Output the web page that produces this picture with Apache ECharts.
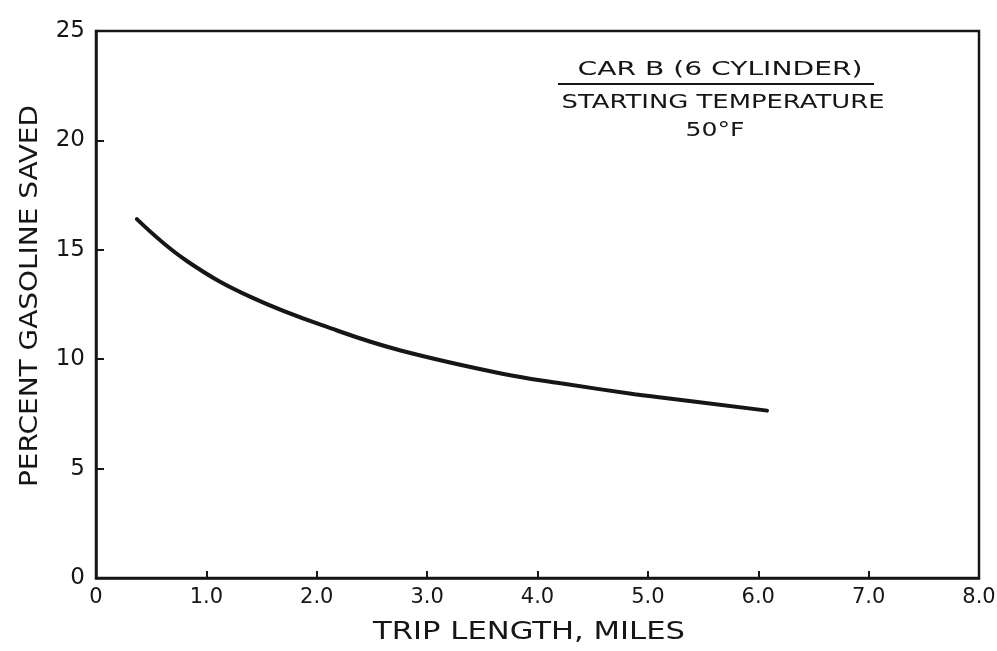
<!DOCTYPE html>
<html><head><meta charset="utf-8">
<script src="https://cdn.jsdelivr.net/npm/echarts@6/dist/echarts.min.js"></script>
<style>html,body{margin:0;padding:0;background:#fff}#c{width:997px;height:651px}</style>
</head><body><div id="c"></div>
<script>
var tripMiles = [0.37, 0.82, 1.42, 2.19, 2.76, 3.67, 4.21, 4.88, 5.12, 6.08];
var pctSaved  = [16.4, 14.5, 12.8, 11.3, 10.4, 9.35, 8.9, 8.4, 8.25, 7.65];
var xTickLabels = ['0','1.0','2.0','3.0','4.0','5.0','6.0','7.0','8.0'];
var yTickLabels = ['0','5','10','15','20','25'];
var xAxisTitle = 'TRIP LENGTH, MILES';
var yAxisTitle = 'PERCENT GASOLINE SAVED';
var noteLines = ['CAR B (6 CYLINDER)', 'STARTING TEMPERATURE', '50°F'];

var FONT = 'DejaVu Sans';
var INK = '#161616';
var mctx = document.createElement('canvas').getContext('2d');
function stretch(text, size, targetW){
  mctx.font = size + 'px "' + FONT + '"';
  return targetW / mctx.measureText(text).width;
}
function label(text, size, cx, cy, targetW, rot){
  return {type:'text', x:cx, y:cy, rotation:rot||0, scaleX:stretch(text,size,targetW), scaleY:1,
    style:{text:text, fontFamily:FONT, fontSize:size, fill:INK, align:'center', verticalAlign:'middle'}};
}
var chart = echarts.init(document.getElementById('c'), null, {renderer:'canvas'});
var data = tripMiles.map(function(x,i){return [x,pctSaved[i]];});
chart.setOption({
  animation:false,
  backgroundColor:'#fff',
  grid:{left:96,right:18,top:31,bottom:73,outerBoundsMode:'none',containLabel:false,
    show:true,borderColor:INK,borderWidth:2.5,backgroundColor:'transparent'},
  xAxis:{type:'value',min:0,max:8,interval:1,
    axisLine:{show:true,lineStyle:{color:INK,width:2.5}},
    axisTick:{show:true,inside:true,length:7,lineStyle:{color:INK,width:2}},
    axisLabel:{fontFamily:FONT,fontSize:21,color:INK,margin:9,
      formatter:function(v){return xTickLabels[Math.round(v)];}},
    splitLine:{show:false}},
  yAxis:{type:'value',min:0,max:25,interval:5,
    axisLine:{show:true,lineStyle:{color:INK,width:2.5}},
    axisTick:{show:true,inside:true,length:8,lineStyle:{color:INK,width:2}},
    axisLabel:{fontFamily:FONT,fontSize:23,color:INK,margin:11,
      formatter:function(v){return yTickLabels[Math.round(v/5)];}},
    splitLine:{show:false}},
  series:[{type:'line',data:data,smooth:0.4,showSymbol:false,
    lineStyle:{color:INK,width:4,cap:'round'}}],
  graphic:[
    label(xAxisTitle, 24, 529, 633, 312, 0),
    label(yAxisTitle, 24, 31, 296, 382, Math.PI/2),
    label(noteLines[0], 20, 720, 70, 285, 0),
    {type:'line',shape:{x1:558,y1:84,x2:874,y2:84},style:{stroke:INK,lineWidth:2}},
    label(noteLines[1], 20, 723, 103, 323, 0),
    label(noteLines[2], 20, 715, 131, 59, 0)
  ]
});
</script></body></html>
